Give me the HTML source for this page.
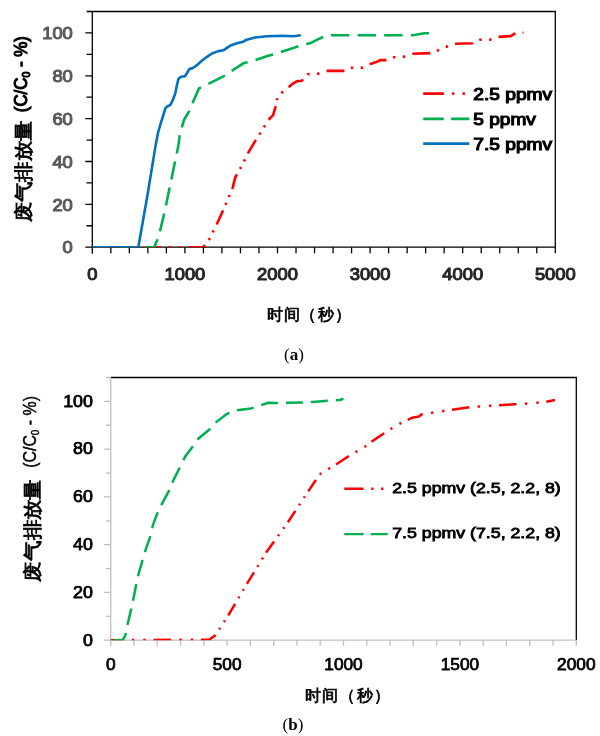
<!DOCTYPE html>
<html><head><meta charset="utf-8"><style>
html,body{margin:0;padding:0;background:#fff;width:600px;height:736px;overflow:hidden}
svg{display:block;will-change:transform}
</style></head><body>
<svg width="600" height="736" viewBox="0 0 600 736">
<rect width="600" height="736" fill="#fff"/>
<path d="M86.7 11.5 H555.3 V247.2" fill="none" stroke="#000" stroke-width="1.3"/>
<path d="M92.3 11.5 V253.7 M92.3 247.2 H555.3" fill="none" stroke="#000" stroke-width="1.3"/>
<path d="M85.3 247.2 H92.3 M86.5 225.77 H92.3 M85.3 204.35 H92.3 M86.5 182.92 H92.3 M85.3 161.49 H92.3 M86.5 140.06 H92.3 M85.3 118.64 H92.3 M86.5 97.21 H92.3 M85.3 75.78 H92.3 M86.5 54.35 H92.3 M85.3 32.93 H92.3 M110.82 247.2 V253.2 M129.34 247.2 V253.2 M147.86 247.2 V253.2 M166.38 247.2 V253.2 M184.9 247.2 V253.2 M203.42 247.2 V253.2 M221.94 247.2 V253.2 M240.46 247.2 V253.2 M258.98 247.2 V253.2 M277.5 247.2 V253.2 M296.02 247.2 V253.2 M314.54 247.2 V253.2 M333.06 247.2 V253.2 M351.58 247.2 V253.2 M370.1 247.2 V253.2 M388.62 247.2 V253.2 M407.14 247.2 V253.2 M425.66 247.2 V253.2 M444.18 247.2 V253.2 M462.7 247.2 V253.2 M481.22 247.2 V253.2 M499.74 247.2 V253.2 M518.26 247.2 V253.2 M536.78 247.2 V253.2 M555.3 247.2 V253.2" fill="none" stroke="#000" stroke-width="1.3"/>
<text x="72.8" y="253.4" text-anchor="end" font-family='"Liberation Sans", sans-serif' stroke="#595959" stroke-width="1.1" font-size="17.3" fill="#595959" textLength="10.2" lengthAdjust="spacingAndGlyphs">0</text>
<text x="72.8" y="210.55" text-anchor="end" font-family='"Liberation Sans", sans-serif' stroke="#595959" stroke-width="1.1" font-size="17.3" fill="#595959" textLength="20.4" lengthAdjust="spacingAndGlyphs">20</text>
<text x="72.8" y="167.69" text-anchor="end" font-family='"Liberation Sans", sans-serif' stroke="#595959" stroke-width="1.1" font-size="17.3" fill="#595959" textLength="20.4" lengthAdjust="spacingAndGlyphs">40</text>
<text x="72.8" y="124.84" text-anchor="end" font-family='"Liberation Sans", sans-serif' stroke="#595959" stroke-width="1.1" font-size="17.3" fill="#595959" textLength="20.4" lengthAdjust="spacingAndGlyphs">60</text>
<text x="72.8" y="81.98" text-anchor="end" font-family='"Liberation Sans", sans-serif' stroke="#595959" stroke-width="1.1" font-size="17.3" fill="#595959" textLength="20.4" lengthAdjust="spacingAndGlyphs">80</text>
<text x="72.8" y="39.13" text-anchor="end" font-family='"Liberation Sans", sans-serif' stroke="#595959" stroke-width="1.1" font-size="17.3" fill="#595959" textLength="30.6" lengthAdjust="spacingAndGlyphs">100</text>
<text x="92.3" y="279.6" text-anchor="middle" font-family='"Liberation Sans", sans-serif' stroke="#262626" stroke-width="1.1" font-size="17.3" fill="#262626" textLength="10.2" lengthAdjust="spacingAndGlyphs">0</text>
<text x="184.9" y="279.6" text-anchor="middle" font-family='"Liberation Sans", sans-serif' stroke="#262626" stroke-width="1.1" font-size="17.3" fill="#262626" textLength="40.8" lengthAdjust="spacingAndGlyphs">1000</text>
<text x="277.5" y="279.6" text-anchor="middle" font-family='"Liberation Sans", sans-serif' stroke="#262626" stroke-width="1.1" font-size="17.3" fill="#262626" textLength="40.8" lengthAdjust="spacingAndGlyphs">2000</text>
<text x="370.1" y="279.6" text-anchor="middle" font-family='"Liberation Sans", sans-serif' stroke="#262626" stroke-width="1.1" font-size="17.3" fill="#262626" textLength="40.8" lengthAdjust="spacingAndGlyphs">3000</text>
<text x="462.7" y="279.6" text-anchor="middle" font-family='"Liberation Sans", sans-serif' stroke="#262626" stroke-width="1.1" font-size="17.3" fill="#262626" textLength="40.8" lengthAdjust="spacingAndGlyphs">4000</text>
<text x="555.3" y="279.6" text-anchor="middle" font-family='"Liberation Sans", sans-serif' stroke="#262626" stroke-width="1.1" font-size="17.3" fill="#262626" textLength="40.8" lengthAdjust="spacingAndGlyphs">5000</text>
<clipPath id="ca"><rect x="92.3" y="11.5" width="463" height="235.7"/></clipPath>
<g clip-path="url(#ca)" fill="none" stroke-width="2.6" stroke-linejoin="round">
<path d="M97.94 247.2 L115.94 247.2 M123.14 247.2 L125.64 247.2 M133.04 247.2 L135.54 247.2 M143.14 247.2 L161.14 247.2 M168.34 247.2 L170.84 247.2 M178.24 247.2 L180.74 247.2 M188.34 247.2 L203.4 247.2 L204.94 245.09 M208.7 239.94 L209.6 238.7 L209.9 238.1 M212.75 232.36 L213.71 230.43 M216.63 224.53 L216.9 224 L223 210.6 L223.08 210.42 M225.53 204.73 L226.38 202.75 M228.83 196.89 L229.66 194.91 M232.18 188.89 L232.8 187.4 L235.2 177.6 L236.86 174.35 M239.95 168.89 L241.06 167 M243.97 161.29 L244.95 159.36 M247.91 153.48 L248.7 151.9 L255.87 139.92 M259.36 134.63 L260.57 132.79 M263.92 127.25 L265.04 125.37 M268.57 119.73 L273.1 115.2 L275.6 106.7 L275.69 106.26 M276.92 100.3 L277.35 98.23 M281.45 93.15 L282.5 92 L283.06 91.55 M288.6 87.18 L289.2 86.7 L293.3 83.3 L296.7 81.3 L301.7 80.8 L303.02 79.3 M307.3 74.43 L307.5 74.2 L309.66 74.1 M317.04 73.76 L318.3 73.7 L319.45 73.3 M326.48 70.9 L344.48 70.9 M350.91 68.28 L352 67.8 L353.26 67.8 M360.66 67.8 L362.5 67.8 L363.07 67.52 M369.61 64.26 L377.7 61.5 L380 60.1 L385.8 60.1 L386.38 59.9 M393.05 57.62 L394 57.3 L395.47 57.24 M402.86 56.92 L403.3 56.9 L405.22 56.27 M412.29 53.93 L412.7 53.8 L430.2 53.1 L430.24 53.09 M436.9 50.78 L438.3 50.3 L439.17 49.92 M445.74 47.05 L448.07 46.29 M455.15 43.98 L455.7 43.8 L472.2 43.3 L472.98 42.92 M479.24 39.93 L479.5 39.8 L481.7 39.8 M489.1 39.8 L489.6 39.8 L491.44 39.15 M498.5 36.86 L510.7 36.1 L514.3 33.8 L515.53 33.67 M522.67 32.89 L523.5 32.8" stroke="#FF0000"/>
<path d="M92.3 247.2 L154.2 247.2 L158.7 236.7 L164.6 212 L178.5 144.9 L180.1 132.5 L184.2 119.5 L189.1 111.4 L193.2 101.6 L198.9 88.5 L207 84.5 L225 75.5 L231.7 70.8 L243.3 63.3 L253.3 60.8 L268.3 55.8 L276.7 53.3 L293.3 48 L303.3 44.7 L310 43.3 L319.3 38.7 L327.5 35.2 L380 35.2 L412.7 35.2 L424.3 33.3 L431.3 33.3" stroke="#00B050" stroke-dasharray="18.4 8.2" stroke-dashoffset="1.03"/>
<path d="M92.3 247.2 L138.3 247.2 L147.5 195 L155.7 144.9 L158.1 132.5 L161.4 121.1 L165.5 108.1 L167.1 106.5 L170.4 104.8 L172.8 100 L175.3 93.4 L176.9 85.3 L178.5 78.8 L181 76.8 L185 76.3 L187.5 72.3 L189.1 69.3 L193.2 67.7 L197.3 64.9 L202.1 60.5 L207 56.8 L211.9 53.5 L218.4 51.1 L223.3 50.3 L225.8 48.6 L230 45.8 L236.7 43.3 L243.3 41.7 L246.7 39.7 L255 37.5 L266.7 36.3 L283.3 35.8 L293.3 36.2 L300.8 35.3" stroke="#0070C0"/>
</g>
<g fill="none" stroke-width="2.6">
<path d="M423.2 93.6 H469.3" stroke="#FF0000" stroke-dasharray="20.7 8.2 2.3 8.2 2.3 7.6"/>
<path d="M423.2 118.9 H469.3" stroke="#00B050" stroke-dasharray="20.6 7.3"/>
<path d="M423.2 143.6 H469.3" stroke="#0070C0"/>
</g>
<text x="473.3" y="99.5" font-family='"Liberation Sans", sans-serif' stroke="#000" stroke-width="1.1" font-size="15.8" fill="#000" textLength="78.9" lengthAdjust="spacingAndGlyphs">2.5 ppmv</text>
<text x="473.3" y="124.7" font-family='"Liberation Sans", sans-serif' stroke="#000" stroke-width="1.1" font-size="15.8" fill="#000" textLength="62.5" lengthAdjust="spacingAndGlyphs">5 ppmv</text>
<text x="473.3" y="149.6" font-family='"Liberation Sans", sans-serif' stroke="#000" stroke-width="1.1" font-size="15.8" fill="#000" textLength="78.9" lengthAdjust="spacingAndGlyphs">7.5 ppmv</text>
<text transform="translate(29.5 222.3) rotate(-90)" font-family='"Liberation Sans", sans-serif' font-size="19" fill="#000" stroke="#000" stroke-width="0.8" textLength="102" lengthAdjust="spacingAndGlyphs">废气排放量</text>
<text transform="translate(26.5 112.2) rotate(-90)" font-family='"Liberation Sans", sans-serif' stroke="#000" stroke-width="1.1" font-size="17.7" fill="#000" textLength="76" lengthAdjust="spacingAndGlyphs">(C/C<tspan font-size="11" dy="3">0</tspan><tspan dy="-3"> - %)</tspan></text>
<text x="266.9 283.7 300.4 318 334.8" y="320.1" font-family='"Liberation Sans", sans-serif' font-size="16" fill="#000" stroke="#000" stroke-width="0.7">时间（秒）</text>
<text x="284" y="360" font-family='"Liberation Serif", serif' font-size="17" fill="#000">(<tspan font-weight="bold">a</tspan>)</text>
<path d="M110.7 377.5 H576.3 V640.2" fill="none" stroke="#000" stroke-width="1.3"/>
<path d="M104 640.2 H110.7 M106 616.32 H110.7 M104 592.44 H110.7 M106 568.55 H110.7 M104 544.67 H110.7 M106 520.79 H110.7 M104 496.91 H110.7 M106 473.03 H110.7 M104 449.15 H110.7 M106 425.26 H110.7 M104 401.38 H110.7 M106 377.5 H110.7 M110.7 640.2 V645.7 M133.98 640.2 V645.7 M157.26 640.2 V645.7 M180.54 640.2 V645.7 M203.82 640.2 V645.7 M227.1 640.2 V645.7 M250.38 640.2 V645.7 M273.66 640.2 V645.7 M296.94 640.2 V645.7 M320.22 640.2 V645.7 M343.5 640.2 V645.7 M366.78 640.2 V645.7 M390.06 640.2 V645.7 M413.34 640.2 V645.7 M436.62 640.2 V645.7 M459.9 640.2 V645.7 M483.18 640.2 V645.7 M506.46 640.2 V645.7 M529.74 640.2 V645.7 M553.02 640.2 V645.7 M576.3 640.2 V645.7 M110.7 377.5 V640.2 H576.3" fill="none" stroke="#BFBFBF" stroke-width="1.3"/>
<text x="92.9" y="645.5" text-anchor="end" font-family='"Liberation Sans", sans-serif' stroke="#000" stroke-width="0.75" font-size="16" fill="#000" textLength="9.9" lengthAdjust="spacingAndGlyphs">0</text>
<text x="92.9" y="597.74" text-anchor="end" font-family='"Liberation Sans", sans-serif' stroke="#000" stroke-width="0.75" font-size="16" fill="#000" textLength="19.8" lengthAdjust="spacingAndGlyphs">20</text>
<text x="92.9" y="549.97" text-anchor="end" font-family='"Liberation Sans", sans-serif' stroke="#000" stroke-width="0.75" font-size="16" fill="#000" textLength="19.8" lengthAdjust="spacingAndGlyphs">40</text>
<text x="92.9" y="502.21" text-anchor="end" font-family='"Liberation Sans", sans-serif' stroke="#000" stroke-width="0.75" font-size="16" fill="#000" textLength="19.8" lengthAdjust="spacingAndGlyphs">60</text>
<text x="92.9" y="454.45" text-anchor="end" font-family='"Liberation Sans", sans-serif' stroke="#000" stroke-width="0.75" font-size="16" fill="#000" textLength="19.8" lengthAdjust="spacingAndGlyphs">80</text>
<text x="92.9" y="406.68" text-anchor="end" font-family='"Liberation Sans", sans-serif' stroke="#000" stroke-width="0.75" font-size="16" fill="#000" textLength="29.7" lengthAdjust="spacingAndGlyphs">100</text>
<text x="110.7" y="670.3" text-anchor="middle" font-family='"Liberation Sans", sans-serif' stroke="#000" stroke-width="0.75" font-size="16.3" fill="#000" textLength="9.6" lengthAdjust="spacingAndGlyphs">0</text>
<text x="227.1" y="670.3" text-anchor="middle" font-family='"Liberation Sans", sans-serif' stroke="#000" stroke-width="0.75" font-size="16.3" fill="#000" textLength="28.8" lengthAdjust="spacingAndGlyphs">500</text>
<text x="343.5" y="670.3" text-anchor="middle" font-family='"Liberation Sans", sans-serif' stroke="#000" stroke-width="0.75" font-size="16.3" fill="#000" textLength="38.4" lengthAdjust="spacingAndGlyphs">1000</text>
<text x="459.9" y="670.3" text-anchor="middle" font-family='"Liberation Sans", sans-serif' stroke="#000" stroke-width="0.75" font-size="16.3" fill="#000" textLength="38.4" lengthAdjust="spacingAndGlyphs">1500</text>
<text x="576.3" y="670.3" text-anchor="middle" font-family='"Liberation Sans", sans-serif' stroke="#000" stroke-width="0.75" font-size="16.3" fill="#000" textLength="38.4" lengthAdjust="spacingAndGlyphs">2000</text>
<clipPath id="cb"><rect x="110.7" y="377.5" width="465.6" height="262.7"/></clipPath>
<g clip-path="url(#cb)" fill="none" stroke-width="2.5" stroke-linejoin="round">
<path d="M110.7 640.2 L123.38 640.12 M131.88 640.07 L134.28 640.06 M143.28 640 L145.68 639.99 M153.38 639.94 L170.88 639.83 M179.38 639.78 L181.78 639.77 M190.78 639.71 L193.18 639.7 M200.88 639.65 L209.5 639.6 L215.4 635.2 L215.56 634.95 M219.16 629.41 L220.17 627.84 M223.98 621.97 L225 620.4 M228.25 615.38 L228.5 615 L235.13 603.79 M238.47 598.16 L239.41 596.57 M242.93 590.61 L243.88 589.02 M246.89 583.92 L247.5 582.9 L253.96 572.4 M257.4 566.8 L258.37 565.22 M262.02 559.29 L262.99 557.71 M266.1 552.64 L266.5 552 L274.11 541.44 M278.02 536.01 L279.13 534.47 M283.27 528.72 L284.38 527.19 M287.92 522.27 L295.4 510.87 M299.03 505.34 L300.05 503.78 M303.9 497.92 L304.7 496.7 L304.93 496.36 M308.25 491.36 L314 482.7 L315.97 480.05 M319.99 474.66 L321 473.3 L321.2 473.18 M328.22 469.12 L330.09 468.04 M336.02 464.51 L348.82 455.92 M355.47 452.11 L357.35 451.04 M364.4 447.01 L365.3 446.5 L366.17 445.85 M371.53 441.86 L374.7 439.5 L384.21 433.19 M390.55 429.12 L392.41 428.03 M399.39 423.94 L401.26 422.85 M407.65 419.77 L412 417.8 L419 416.6 L421.3 414.5 L422.72 414.29 M431.01 412.94 L433.34 412.54 M442.15 411.2 L444.5 410.86 M452.05 409.76 L453.8 409.5 L469.21 407.3 M477.65 406.59 L480.04 406.44 M489 405.86 L490 405.8 L491.39 405.72 M499.07 405.26 L515 404.3 L516.5 404.2 M524.97 403.65 L527.36 403.5 M536.32 402.86 L538.69 402.61 M546.31 401.8 L555 400" stroke="#FF0000"/>
<path d="M110.7 640.2 L122.7 640.2 L125.3 635.5 L127 627 L132.9 601.5 L135.5 588 L138 576 L142.3 560.8 L146.5 547.2 L150.8 535.3 L152.9 525.1 L158.6 509.9 L163.3 501.3 L170 489 L173.8 479.4 L180.5 466.1 L185.2 456.6 L193.8 445.2 L198.5 438.5 L210 429 L214.7 423.3 L227.1 413.8 L234.7 410.6 L250.9 408.5 L260.1 405.5 L268.3 402.8 L276.6 403 L284.8 402.8 L303.2 402.4 L312.3 401.9 L328.8 400.6 L339.8 400 L343.5 398.8" stroke="#00B050" stroke-dasharray="17 8" stroke-dashoffset="21.96"/>
</g>
<g fill="none" stroke-width="2.4">
<path d="M344.3 488.7 H390" stroke="#FF0000" stroke-dasharray="19.3 7.6 2.3 7.6 2.3 7.6"/>
<path d="M344.3 534.1 H387.7" stroke="#00B050" stroke-dasharray="19.3 7.1"/>
</g>
<text x="392.2" y="493.3" font-family='"Liberation Sans", sans-serif' stroke="#000" stroke-width="0.8" font-size="14.1" fill="#000" textLength="168.6" lengthAdjust="spacingAndGlyphs">2.5 ppmv (2.5, 2.2, 8)</text>
<text x="392.2" y="538.3" font-family='"Liberation Sans", sans-serif' stroke="#000" stroke-width="0.8" font-size="14.1" fill="#000" textLength="168.6" lengthAdjust="spacingAndGlyphs">7.5 ppmv (7.5, 2.2, 8)</text>
<text transform="translate(38.5 581.5) rotate(-90)" font-family='"Liberation Sans", sans-serif' font-size="18.5" fill="#000" stroke="#000" stroke-width="0.8" textLength="102.5" lengthAdjust="spacingAndGlyphs">废气排放量</text>
<text transform="translate(35.5 467.8) rotate(-90)" font-family='"Liberation Sans", sans-serif' font-size="17.5" fill="#000" stroke="#000" stroke-width="0.45" textLength="71.8" lengthAdjust="spacingAndGlyphs">(C/C<tspan font-size="11" dy="3">0</tspan><tspan dy="-3"> - %)</tspan></text>
<text x="305.1 322 339.2 356.9 373.7" y="701.2" font-family='"Liberation Sans", sans-serif' font-size="16" fill="#000" stroke="#000" stroke-width="0.7">时间（秒）</text>
<text x="282.5" y="730" font-family='"Liberation Serif", serif' font-size="17" fill="#000">(<tspan font-weight="bold">b</tspan>)</text>
</svg>
</body></html>
